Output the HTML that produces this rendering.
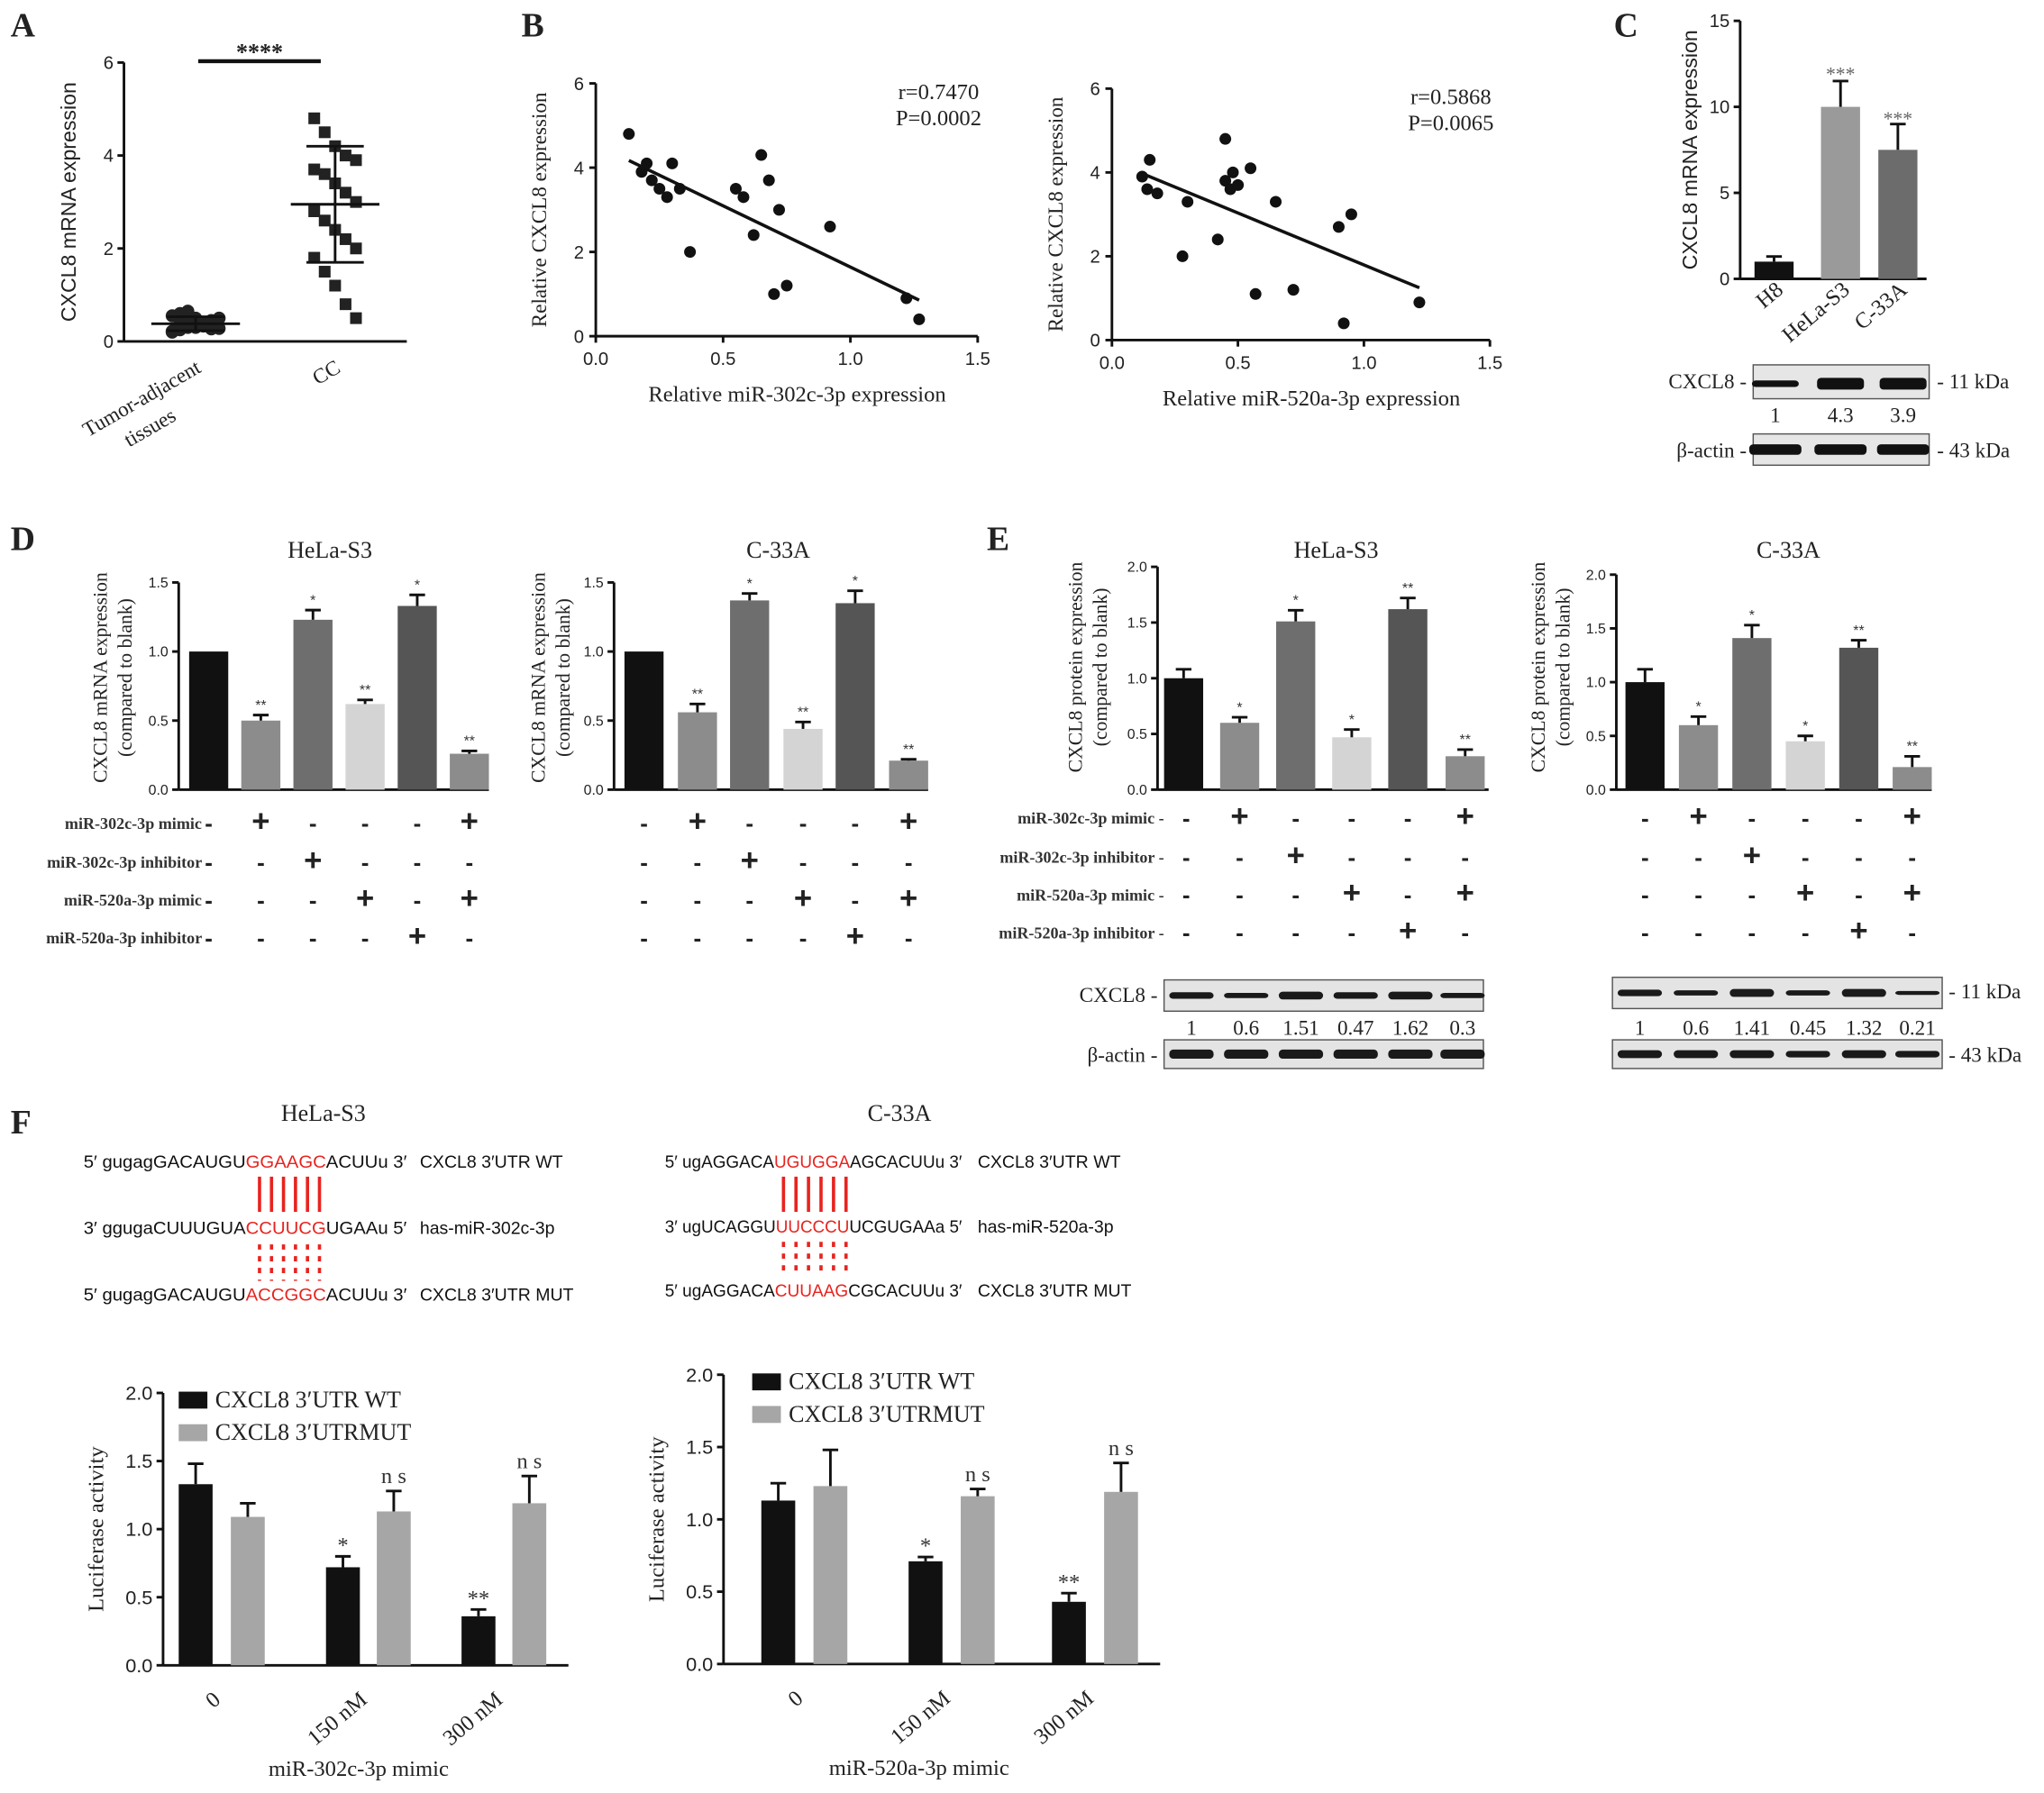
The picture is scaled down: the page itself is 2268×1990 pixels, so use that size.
<!DOCTYPE html>
<html><head><meta charset="utf-8">
<style>
html,body{margin:0;padding:0;background:#fff;}
svg{display:block;font-family:"Liberation Serif",serif;}
</style></head>
<body>
<svg id="fig" width="2268" height="1990" viewBox="0 0 1568 1376" xmlns="http://www.w3.org/2000/svg">
<rect width="1568" height="1376" fill="#fff"/>
<g id="static" font-family="Liberation Serif, serif" fill="#222">
 <text x="8" y="28" font-size="26" font-weight="bold">A</text>
 <text x="400" y="28" font-size="26" font-weight="bold">B</text>
 <text x="1238" y="28" font-size="26" font-weight="bold">C</text>
 <text x="8" y="422" font-size="26" font-weight="bold">D</text>
 <text x="757" y="422" font-size="26" font-weight="bold">E</text>
 <text x="8" y="870" font-size="26" font-weight="bold">F</text>
</g>
<g id="layer"></g>
</svg>
<script>
// ---------- DATA ----------
// Panel A
const aAdjacent = [0.2,0.25,0.3,0.35,0.4,0.45,0.5,0.55,0.6,0.65,0.3,0.35,0.4,0.28,0.22,0.38,0.42,0.5,0.33,0.27];
const aCC = [4.8,4.5,4.2,4.0,3.9,3.7,3.6,3.4,3.2,3.0,2.8,2.6,2.4,2.2,2.0,1.8,1.5,1.2,0.8,0.5];
const aMeans = [0.38, 2.95];
const aSD = [0.15, 1.25];
const aTicks = [0,2,4,6];
// Panel B
const b1x = [0.13,0.18,0.2,0.22,0.25,0.28,0.3,0.33,0.37,0.55,0.58,0.62,0.65,0.68,0.7,0.72,0.75,0.92,1.22,1.27];
const b1y = [4.8,3.9,4.1,3.7,3.5,3.3,4.1,3.5,2.0,3.5,3.3,2.4,4.3,3.7,1.0,3.0,1.2,2.6,0.9,0.4];
const b2x = [0.12,0.14,0.15,0.18,0.3,0.28,0.45,0.45,0.48,0.5,0.55,0.57,0.65,0.72,0.9,0.92,0.95,1.22,0.42,0.47];
const b2y = [3.9,3.6,4.3,3.5,3.3,2.0,4.8,3.8,4.0,3.7,4.1,1.1,3.3,1.2,2.7,0.4,3.0,0.9,2.4,3.6];
const bTicksX = [0.0,0.5,1.0,1.5];
const bTicksY = [0,2,4,6];
// Panel C
const cCats = ["H8","HeLa-S3","C-33A"];
const cVals = [1.0,10.0,7.5];
const cErr = [0.3,1.5,1.5];
const cTicks = [0,5,10,15];
// Panel D
const dHeLa = [1.0,0.5,1.23,0.62,1.33,0.26];
const dHeLaErr = [0,0.04,0.07,0.03,0.08,0.02];
const dC33 = [1.0,0.56,1.37,0.44,1.35,0.21];
const dC33Err = [0,0.06,0.05,0.05,0.09,0.01];
const dStars = ["","**","*","**","*","**"];
const dTicks = [0.0,0.5,1.0,1.5];
// Panel E
const eHeLa = [1.0,0.6,1.51,0.47,1.62,0.3];
const eHeLaErr = [0.08,0.05,0.1,0.07,0.1,0.06];
const eC33 = [1.0,0.6,1.41,0.45,1.32,0.21];
const eC33Err = [0.12,0.08,0.12,0.05,0.07,0.1];
const eStars = ["","*","*","*","**","**"];
const eTicks = [0.0,0.5,1.0,1.5,2.0];
const eBlotHeLa = ["1","0.6","1.51","0.47","1.62","0.3"];
const eBlotC33 = ["1","0.6","1.41","0.45","1.32","0.21"];
// Panel F
const fCats = ["0","150 nM","300 nM"];
const fWT1 = [1.33,0.72,0.36];
const fWT1Err = [0.15,0.08,0.05];
const fMUT1 = [1.09,1.13,1.19];
const fMUT1Err = [0.1,0.15,0.2];
const fWT2 = [1.13,0.71,0.43];
const fWT2Err = [0.12,0.03,0.06];
const fMUT2 = [1.23,1.16,1.19];
const fMUT2Err = [0.25,0.05,0.2];
const fStarsWT = ["","*","**"];
const fTicks = [0.0,0.5,1.0,1.5,2.0];

// ---------- HELPERS ----------
const NS = "http://www.w3.org/2000/svg";
const L = document.getElementById('layer');
function mk(tag, attrs, parent){
  const e = document.createElementNS(NS, tag);
  for (const k in attrs) e.setAttribute(k, attrs[k]);
  (parent||L).appendChild(e);
  return e;
}
function txt(x,y,s,size,opts){
  opts=opts||{};
  const e = mk('text',{x:x,y:y,'font-size':size,fill:opts.fill||'#222','text-anchor':opts.anchor||'start'});
  if(opts.family) e.setAttribute('font-family',opts.family);
  if(opts.weight) e.setAttribute('font-weight',opts.weight);
  if(opts.rot!==undefined) e.setAttribute('transform','rotate('+opts.rot+' '+x+' '+y+')');
  e.textContent = s;
  return e;
}
function line(x1,y1,x2,y2,w,c){ return mk('line',{x1:x1,y1:y1,x2:x2,y2:y2,stroke:c||'#111','stroke-width':w||2}); }
function yAxis(x, y0, y1, vmax, ticks, size, fmt){
  const sy = v => y0 - (y0-y1)*v/vmax;
  const ax = line(x,y0,x,sy(ticks[ticks.length-1]),2);
  
  
  ticks.forEach(t=>{ line(x-5,sy(t),x,sy(t),2); txt(x-8,sy(t)+size*0.35,fmt?fmt(t):String(t),size,{anchor:'end',family:'Liberation Sans, sans-serif'}); });
  return sy;
}
function bars(xs, vals, errs, colors, sy, w, stars){
  vals.forEach((v,i)=>{
    const r = mk('rect',{x:xs[i]-w/2,y:sy(v),width:w,height:sy(0)-sy(v),fill:colors[i]});
    
    
    if(errs[i]>0){ line(xs[i],sy(v),xs[i],sy(v+errs[i]),2); line(xs[i]-6,sy(v+errs[i]),xs[i]+6,sy(v+errs[i]),2); }
    if(stars && stars[i]) txt(xs[i],sy(v+errs[i])-4,stars[i],11,{anchor:'middle',family:'Liberation Sans, sans-serif',fill:'#333'});
  });
}

// ---------- PANEL A ----------
(function(){
  const sy = yAxis(95,262,48,6,aTicks,14,null);
  line(95,262,312,262,2);
  txt(58,155,'CXCL8 mRNA expression',16,{anchor:'middle',rot:-90,family:'Liberation Sans, sans-serif'});
  const cx=[150,257];
  [aAdjacent,aCC].forEach((arr,g)=>{
    arr.forEach((v,i)=>{
      const off = ((i%7)-3)*6;
      const p = g===0 ? mk('circle',{cx:cx[g]+off,cy:sy(v),r:5,fill:'#222'}) : mk('rect',{x:cx[g]+((i%5)-2)*8-4.5,y:sy(v)-4.5,width:9,height:9,fill:'#222'});
      
      
    });
    line(cx[g]-34,sy(aMeans[g]),cx[g]+34,sy(aMeans[g]),2);
    line(cx[g],sy(aMeans[g]-aSD[g]),cx[g],sy(aMeans[g]+aSD[g]),2);
    line(cx[g]-22,sy(aMeans[g]+aSD[g]),cx[g]+22,sy(aMeans[g]+aSD[g]),2);
    line(cx[g]-22,sy(Math.max(0,aMeans[g]-aSD[g])),cx[g]+22,sy(Math.max(0,aMeans[g]-aSD[g])),2);
  });
  line(152,47,246,47,3);
  txt(199,46,'****',18,{anchor:'middle',weight:'bold'});
  txt(155,285,'Tumor-adjacent',16,{anchor:'end',rot:-30});
  txt(136,322,'tissues',16,{anchor:'end',rot:-30});
  txt(262,285,'CC',16,{anchor:'end',rot:-30});
})();

// ---------- PANEL B ----------
function scatterB(x0,x1,y0,y1,xs,ys,rt,pt,xl){
  const sx=v=>x0+(x1-x0)*v/1.5, sy=v=>y0-(y0-y1)*v/6;
  line(x0-1,y0,x1,y0,2); line(x0,y0,x0,y1,2);
  bTicksX.forEach(t=>{ line(sx(t),y0,sx(t),y0+5,2); txt(sx(t),y0+22,t.toFixed(1),14,{anchor:'middle',family:'Liberation Sans, sans-serif'}); });
  bTicksY.forEach(t=>{ line(x0-5,sy(t),x0,sy(t),2); txt(x0-9,sy(t)+5,String(t),14,{anchor:'end',family:'Liberation Sans, sans-serif'}); });
  xs.forEach((v,i)=>{ const c=mk('circle',{cx:sx(v),cy:sy(ys[i]),r:4.5,fill:'#111'});
    
     });
  const n=xs.length; let mx=0,my=0; xs.forEach((v,i)=>{mx+=v;my+=ys[i];}); mx/=n; my/=n;
  let num=0,den=0; xs.forEach((v,i)=>{num+=(v-mx)*(ys[i]-my);den+=(v-mx)*(v-mx);});
  const b=num/den,a=my-b*mx; const lo=Math.min(...xs),hi=Math.max(...xs);
  line(sx(lo),sy(a+b*lo),sx(hi),sy(a+b*hi),2.5);
  txt(x1-30,y1+12,rt,17,{anchor:'middle'}); txt(x1-30,y1+32,pt,17,{anchor:'middle'});
  txt((x0+x1)/2+8,y0+50,xl,17,{anchor:'middle'});
  txt(x0-38,(y0+y1)/2,'Relative CXCL8 expression',16,{anchor:'middle',rot:-90});
}
scatterB(457,750,258,64,b1x,b1y,'r=0.7470','P=0.0002','Relative miR-302c-3p expression');
scatterB(853,1143,261,68,b2x,b2y,'r=0.5868','P=0.0065','Relative miR-520a-3p expression');

// ---------- PANEL C ----------
(function(){
  const sy=yAxis(1335,214,16,15,cTicks,14,null);
  line(1335,214,1478,214,2);
  const xs=[1361,1412,1456];
  bars(xs,cVals,cErr,['#111','#9a9a9a','#6c6c6c'],sy,30,null);
  txt(1412,62,'***',15,{anchor:'middle',fill:'#666'}); txt(1456,96,'***',15,{anchor:'middle',fill:'#666'});
  txt(1302,115,'CXCL8 mRNA expression',16,{anchor:'middle',rot:-90,family:'Liberation Sans, sans-serif'});
  cCats.forEach((c,i)=>txt(xs[i]+8,224,c,17,{anchor:'end',rot:-40}));
  mk('rect',{x:1345,y:280,width:135,height:26,fill:'#e6e6e6',stroke:'#555'});
  [[1362,2],[1412,6],[1460,6]].forEach(b=>mk('rect',{x:b[0]-18,y:293-b[1]/2,width:36,height:b[1]+3,rx:3,fill:'#111'}));
  mk('rect',{x:1345,y:333,width:135,height:24,fill:'#e6e6e6',stroke:'#555'});
  [1362,1412,1460].forEach(x=>mk('rect',{x:x-20,y:341,width:40,height:8,rx:3,fill:'#111'}));
  txt(1340,298,'CXCL8 -',16,{anchor:'end'}); txt(1340,351,'β-actin -',16,{anchor:'end'});
  txt(1486,298,'- 11 kDa',16); txt(1486,351,'- 43 kDa',16);
  ['1','4.3','3.9'].forEach((s,i)=>txt([1362,1412,1460][i],324,s,16,{anchor:'middle'}));
})();

// ---------- PANEL D / E helpers ----------
function signRows(xs,rows,rowYs){
  rows.forEach((r,ri)=>r.forEach((s,i)=>txt(xs[i],rowYs[ri]+7,s==='+'?'+':'-',s==='+'?24:18,{anchor:'middle',family:'Liberation Sans, sans-serif',weight:'bold'})));
}
const signs=[['-','+','-','-','-','+'],['-','-','+','-','-','-'],['-','-','-','+','-','+'],['-','-','-','-','+','-']];
const barCols=['#111','#8c8c8c','#6e6e6e','#d4d4d4','#555','#8c8c8c'];

// Panel D
(function(){
  const sy=yAxis(137,606,447,1.5,dTicks,11,t=>t.toFixed(1));
  line(137,606,375,606,2);
  const xs=[160,200,240,280,320,360];
  bars(xs,dHeLa,dHeLaErr,barCols,sy,30,dStars);
  txt(253,428,'HeLa-S3',18,{anchor:'middle'});
  txt(82,520,'CXCL8 mRNA expression',15,{anchor:'middle',rot:-90});
  txt(101,520,'(compared to blank)',15,{anchor:'middle',rot:-90});
  const sy2=yAxis(471,606,447,1.5,dTicks,11,t=>t.toFixed(1));
  line(471,606,712,606,2);
  const xs2=[494,535,575,616,656,697];
  bars(xs2,dC33,dC33Err,barCols,sy2,30,dStars);
  txt(597,428,'C-33A',18,{anchor:'middle'});
  txt(418,520,'CXCL8 mRNA expression',15,{anchor:'middle',rot:-90});
  txt(437,520,'(compared to blank)',15,{anchor:'middle',rot:-90});
  const ry=[631,661,690,719];
  ['miR-302c-3p mimic -','miR-302c-3p inhibitor -','miR-520a-3p mimic -','miR-520a-3p inhibitor -'].forEach((s,i)=>txt(162,ry[i]+5,s,12.5,{anchor:'end',weight:'bold',fill:'#333'}));
  signRows(xs,signs,ry); signRows(xs2,signs,ry);
})();

// Panel E
(function(){
  const sy=yAxis(888,606,435,2.0,eTicks,11,t=>t.toFixed(1));
  line(888,606,1142,606,2);
  const xs=[908,951,994,1037,1080,1124];
  bars(xs,eHeLa,eHeLaErr,barCols,sy,30,eStars);
  txt(1025,428,'HeLa-S3',18,{anchor:'middle'});
  txt(830,512,'CXCL8 protein expression',15,{anchor:'middle',rot:-90});
  txt(849,512,'(compared to blank)',15,{anchor:'middle',rot:-90});
  const sy2=yAxis(1240,606,441,2.0,eTicks,11,t=>t.toFixed(1));
  line(1240,606,1482,606,2);
  const xs2=[1262,1303,1344,1385,1426,1467];
  bars(xs2,eC33,eC33Err,barCols,sy2,30,eStars);
  txt(1372,428,'C-33A',18,{anchor:'middle'});
  txt(1185,512,'CXCL8 protein expression',15,{anchor:'middle',rot:-90});
  txt(1204,512,'(compared to blank)',15,{anchor:'middle',rot:-90});
  const ry=[627,657,686,715];
  ['miR-302c-3p mimic -','miR-302c-3p inhibitor -','miR-520a-3p mimic -','miR-520a-3p inhibitor -'].forEach((s,i)=>txt(893,ry[i]+5,s,12.5,{anchor:'end',weight:'bold',fill:'#333'}));
  signRows([910,951,994,1037,1080,1124],signs,ry); signRows(xs2,signs,ry);
  function blot(x0,x1,y,h,bxs,th){
    mk('rect',{x:x0,y:y,width:x1-x0,height:h,fill:'#e4e4e4',stroke:'#555'});
    bxs.forEach((x,i)=>mk('rect',{x:x-17,y:y+h/2-th[i]/2,width:34,height:th[i],rx:3,fill:'#1a1a1a'}));
  }
  const bx1=[914,956,998,1040,1082,1122];
  blot(893,1138,752,24,bx1,[5,4,6,5,6,4]);
  blot(893,1138,798,22,bx1,[7,7,7,7,7,7]);
  eBlotHeLa.forEach((s,i)=>txt(bx1[i],794,s,16,{anchor:'middle'}));
  txt(888,769,'CXCL8 -',16,{anchor:'end'}); txt(888,815,'β-actin -',16,{anchor:'end'});
  const bx2=[1258,1301,1344,1387,1430,1471];
  blot(1237,1490,750,24,bx2,[5,4,6,4,6,3]);
  blot(1237,1490,798,22,bx2,[6,6,6,5,6,5]);
  eBlotC33.forEach((s,i)=>txt(bx2[i],794,s,16,{anchor:'middle'}));
  txt(1495,766,'- 11 kDa',16); txt(1495,815,'- 43 kDa',16);
})();

// ---------- PANEL F sequences ----------
function seq(x,y,w,parts,label,lx){
  const t=mk('text',{x:x,y:y,'font-size':13.5,'font-family':'Liberation Sans, sans-serif',fill:'#111',textLength:w,lengthAdjust:'spacingAndGlyphs'});
  parts.forEach(p=>{const s=mk('tspan',{fill:p[1]?'#e8231f':'#111'},t); s.textContent=p[0];});
  const l=txt(lx,y,label,13.5,{family:'Liberation Sans, sans-serif',fill:'#111'});
}
txt(248,860,'HeLa-S3',18,{anchor:'middle'}); txt(690,860,'C-33A',18,{anchor:'middle'});
seq(64,896,248,[["5′ gugagGACAUGU",0],["GGAAGC",1],["ACUUu 3′",0]],'CXCL8 3′UTR WT',322);
seq(64,947,248,[["3′ ggugaCUUUGUA",0],["CCUUCG",1],["UGAAu 5′",0]],'has-miR-302c-3p',322);
seq(64,998,248,[["5′ gugagGACAUGU",0],["ACCGGC",1],["ACUUu 3′",0]],'CXCL8 3′UTR MUT',322);
seq(510,896,228,[["5′ ugAGGACA",0],["UGUGGA",1],["AGCACUUu 3′",0]],'CXCL8 3′UTR WT',750);
seq(510,946,228,[["3′ ugUCAGGU",0],["UUCCCU",1],["UCGUGAAa 5′",0]],'has-miR-520a-3p',750);
seq(510,995,228,[["5′ ugAGGACA",0],["CUUAAG",1],["CGCACUUu 3′",0]],'CXCL8 3′UTR MUT',750);
for(let i=0;i<6;i++){
  line(199+i*9.2,903,199+i*9.2,930,2.5,'#e8231f');
  mk('line',{x1:199+i*9.2,y1:955,x2:199+i*9.2,y2:983,stroke:'#e8231f','stroke-width':2.5,'stroke-dasharray':'4,5'});
  line(601+i*9.6,903,601+i*9.6,930,2.5,'#e8231f');
  mk('line',{x1:601+i*9.6,y1:953,x2:601+i*9.6,y2:980,stroke:'#e8231f','stroke-width':2.5,'stroke-dasharray':'4,5'});
}

// ---------- PANEL F bars ----------
function fChart(ax,y0,y1,xsW,xsM,wt,wtE,mut,mutE,xl,legX,legY){
  const sy=yAxis(ax,y0,y1,2.0,fTicks,15,t=>t.toFixed(1));
  line(ax,y0,xsM[2]+30,y0,2);
  bars(xsW,wt,wtE,['#111','#111','#111'],sy,26,null);
  bars(xsM,mut,mutE,['#a6a6a6','#a6a6a6','#a6a6a6'],sy,26,null);
  fStarsWT.forEach((s,i)=>{ if(s) txt(xsW[i],sy(wt[i]+wtE[i])-3,s,17,{anchor:'middle',fill:'#333'}); });
  [1,2].forEach(i=>txt(xsM[i],sy(mut[i]+mutE[i])-6,'n s',17,{anchor:'middle',fill:'#333'}));
  fCats.forEach((c,i)=>txt((xsW[i]+xsM[i])/2,y0+28,c,17,{anchor:'end',rot:-40}));
  txt(ax+150,y0+85,xl,17,{anchor:'middle'});
  txt(ax-46,(y0+y1)/2,'Luciferase activity',17,{anchor:'middle',rot:-90});
  mk('rect',{x:legX,y:legY-12,width:22,height:13,fill:'#111'}); txt(legX+28,legY,'CXCL8 3′UTR WT',18);
  mk('rect',{x:legX,y:legY+13,width:22,height:13,fill:'#a6a6a6'}); txt(legX+28,legY+25,'CXCL8 3′UTRMUT',18);
}
fChart(125,1278,1069,[150,263,367],[190,302,406],fWT1,fWT1Err,fMUT1,fMUT1Err,'miR-302c-3p mimic',137,1080);
fChart(555,1277,1055,[597,710,820],[637,750,860],fWT2,fWT2Err,fMUT2,fMUT2Err,'miR-520a-3p mimic',577,1066);
</script>
</body></html>
